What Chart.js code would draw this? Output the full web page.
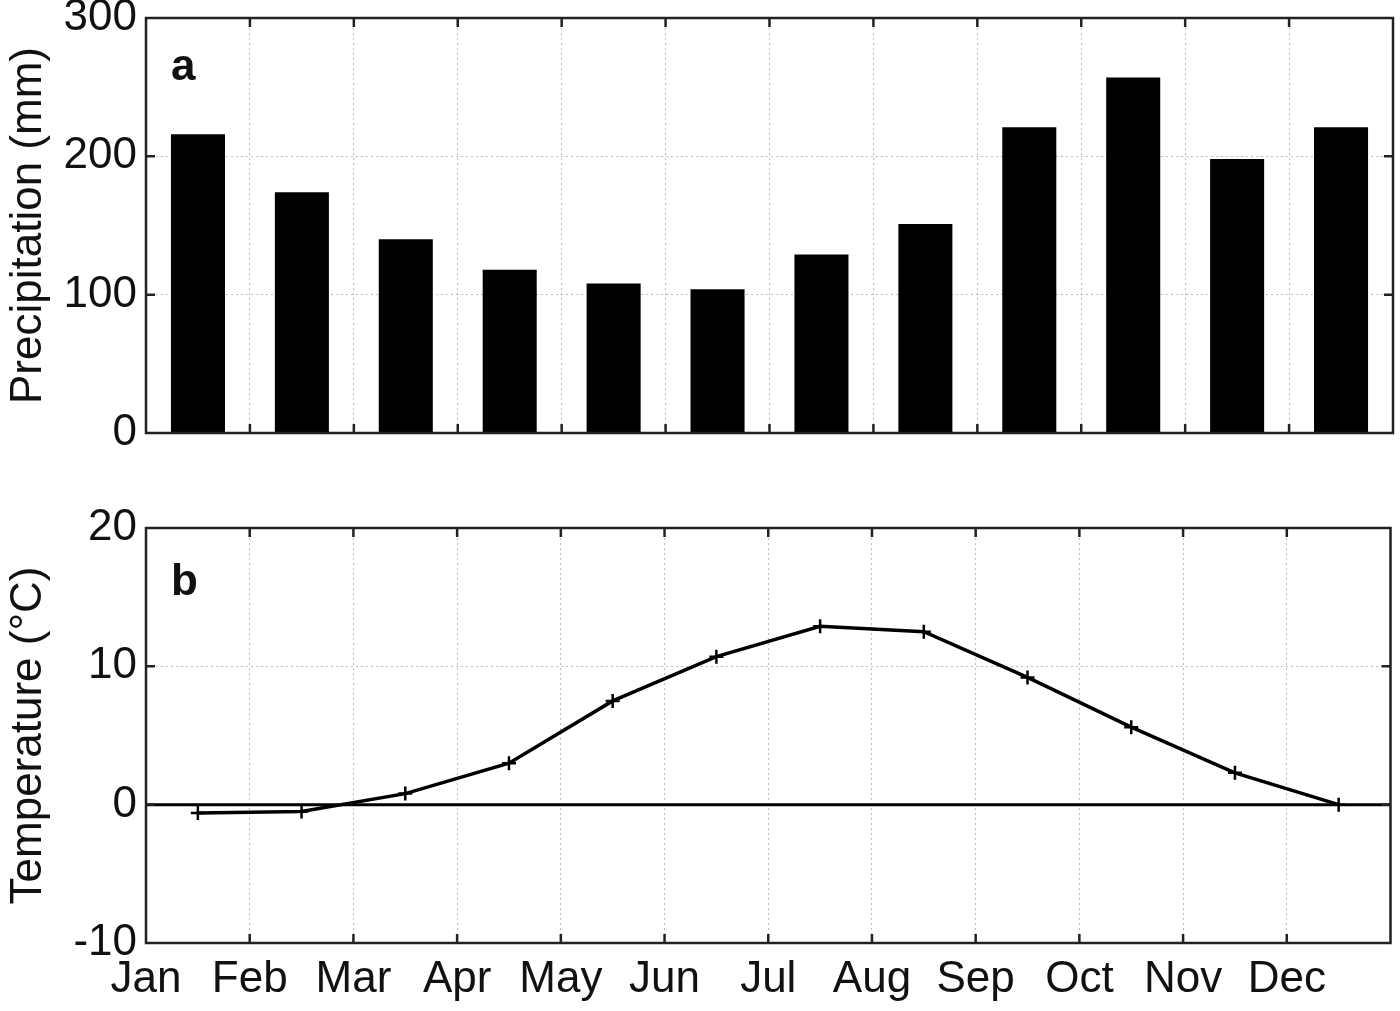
<!DOCTYPE html>
<html><head><meta charset="utf-8">
<script src="https://cdn.jsdelivr.net/npm/chart.js@4/dist/chart.umd.min.js"></script>
<style>
html,body{margin:0;padding:0;background:#fff;width:1400px;height:1011px;overflow:hidden}
.box{position:absolute;left:0;width:1400px}
</style></head><body>
<div class="box" style="top:0;height:490px"><canvas id="c1" width="1400" height="490"></canvas></div>
<div class="box" style="top:490px;height:521px"><canvas id="c2" width="1400" height="521"></canvas></div>
<script>
const months = ['Jan','Feb','Mar','Apr','May','Jun','Jul','Aug','Sep','Oct','Nov','Dec'];
const precipitation = [216,174,140,118,108,104,129,151,221,257,198,221];
const temperature = [-0.6,-0.5,0.8,3.0,7.5,10.7,12.9,12.5,9.2,5.6,2.3,0.0];
const precipRange = [0,300,100];
const tempRange = [-10,20,10];

const FONT = '"Liberation Sans", Arial, sans-serif';
const TXT = '#111';

const framePlugin = {
  id:'frame',
  beforeDatasetsDraw(chart, args, opts){
    if(!opts.zeroLine) return;
    const {ctx, chartArea:a, scales} = chart;
    const y = scales.y.getPixelForValue(0);
    ctx.save();
    ctx.strokeStyle='#000'; ctx.lineWidth=3;
    ctx.beginPath(); ctx.moveTo(a.left,y); ctx.lineTo(a.right,y); ctx.stroke();
    ctx.restore();
  },
  afterDatasetsDraw(chart, args, opts){
    const {ctx, chartArea:a, scales} = chart;
    ctx.save();
    ctx.strokeStyle='#222'; ctx.lineWidth=2.5;
    ctx.beginPath();
    scales.x.ticks.forEach(t=>{
      if(t.value<=scales.x.min||t.value>=scales.x.max) return;
      const x=scales.x.getPixelForValue(t.value);
      ctx.moveTo(x,a.top); ctx.lineTo(x,a.top+9);
      ctx.moveTo(x,a.bottom); ctx.lineTo(x,a.bottom-9);
    });
    scales.y.ticks.forEach(t=>{
      if(t.value<=scales.y.min||t.value>=scales.y.max) return;
      const y=scales.y.getPixelForValue(t.value);
      ctx.moveTo(a.left,y); ctx.lineTo(a.left+9,y);
      ctx.moveTo(a.right,y); ctx.lineTo(a.right-9,y);
    });
    ctx.stroke();
    ctx.strokeRect(a.left,a.top,a.right-a.left,a.bottom-a.top);
    ctx.fillStyle=TXT;
    ctx.font='bold 44px '+FONT;
    ctx.textBaseline='alphabetic';
    ctx.fillText(opts.label, a.left+25, a.top+opts.labelDy);
    ctx.restore();
  }
};

function xScale(showLabels, h){
  return {
    type:'linear', min:0, max:12, offset:false,
    grid:{offset:false, color:'#bdbdbd', lineWidth:1, drawTicks:false},
    border:{display:false, dash:[2,3]},
    ticks:{display:showLabels, stepSize:1, autoSkip:false, maxRotation:0, padding:10,
      color:TXT, font:{family:FONT, size:44},
      callback:(v)=> (months[v]!==undefined ? months[v] : '')},
    afterFit:(s)=>{ s.height=h; s.paddingLeft=0; s.paddingRight=0; }
  };
}
function yScale(range, title){
  return {
    type:'linear', min:range[0], max:range[1],
    grid:{color:'#bdbdbd', lineWidth:1, drawTicks:false},
    border:{display:false, dash:[2,3]},
    ticks:{stepSize:range[2], padding:9, color:TXT, font:{family:FONT, size:44}},
    title:{display:true, text:title, color:TXT, font:{family:FONT, size:44}, padding:{top:2,bottom:0}},
    afterFit:(s)=>{ s.width=146; s.paddingTop=0; s.paddingBottom=0; }
  };
}

new Chart(document.getElementById('c1'), {
  type:'bar',
  data:{datasets:[{
    data:precipitation.map((v,i)=>({x:i+0.5,y:v})),
    backgroundColor:'#000', borderWidth:0,
    barPercentage:0.52, categoryPercentage:1
  }]},
  options:{
    responsive:false, animation:false, devicePixelRatio:1,
    layout:{padding:{left:0,right:7,top:18,bottom:0}},
    plugins:{legend:{display:false}, tooltip:{enabled:false}, frame:{label:'a', labelDy:62}},
    scales:{x:xScale(false,57), y:yScale(precipRange,'Precipitation (mm)')}
  },
  plugins:[framePlugin]
});

new Chart(document.getElementById('c2'), {
  type:'line',
  data:{datasets:[{
    data:temperature.map((v,i)=>({x:i+0.5,y:v})),
    borderColor:'#000', borderWidth:3.5, tension:0, fill:false,
    pointStyle:'cross', pointRadius:7, pointBorderWidth:2.5,
    pointBorderColor:'#000', pointBackgroundColor:'#000'
  }]},
  options:{
    responsive:false, animation:false, devicePixelRatio:1,
    layout:{padding:{left:0,right:7,top:38,bottom:0}},
    plugins:{legend:{display:false}, tooltip:{enabled:false}, frame:{label:'b', labelDy:67, zeroLine:true}},
    scales:{x:xScale(true,68), y:yScale(tempRange,'Temperature (°C)')}
  },
  plugins:[framePlugin]
});
</script>
</body></html>
